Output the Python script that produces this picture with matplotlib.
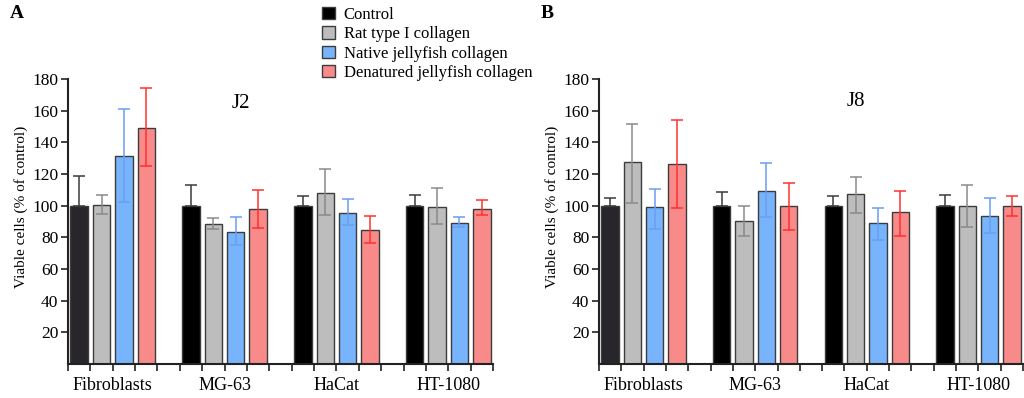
import matplotlib
matplotlib.use("Agg")
import matplotlib.pyplot as plt
from matplotlib.patches import Patch
import matplotlib.transforms as mtransforms

plt.rcParams['font.family'] = ['Liberation Serif', 'DejaVu Serif']

categories = ["Fibroblasts", "MG-63", "HaCat", "HT-1080"]
series = ["Control", "Rat type I collagen", "Native jellyfish collagen", "Denatured jellyfish collagen"]

# J2 panel: values, lower error end, upper error end
j2_control = [100, 100, 100, 100]
j2_control_hi = [118.5, 113, 106, 107]
j2_rat = [100.5, 88.5, 108, 99.2]
j2_rat_lo = [94.5, 85.5, 94, 88.2]
j2_rat_hi = [107, 92.5, 123, 111]
j2_native = [131.5, 83.5, 95.6, 89.3]
j2_native_lo = [102.5, 75, 88, 86.7]
j2_native_hi = [161, 93, 104, 93]
j2_denat = [149, 98, 84.6, 98.1]
j2_denat_lo = [125, 86, 76.6, 94.3]
j2_denat_hi = [174, 110, 93.3, 103.6]

# J8 panel
j8_control = [100, 100, 100, 100]
j8_control_hi = [104.6, 108.6, 106, 107]
j8_rat = [127.8, 90.5, 107.6, 100]
j8_rat_lo = [101.7, 80.6, 95.2, 86.5]
j8_rat_hi = [151.4, 99.6, 117.9, 113]
j8_native = [99, 109.5, 89, 93.3]
j8_native_lo = [85.5, 93, 78.5, 82.7]
j8_native_hi = [110.7, 127, 98.7, 104.6]
j8_denat = [126.5, 100, 96.2, 99.6]
j8_denat_lo = [98.3, 84.4, 81, 93.7]
j8_denat_hi = [154.3, 114.5, 109.5, 106.3]

yticks = [20, 40, 60, 80, 100, 120, 140, 160, 180]

fill_colors = ["#000000", "#bdbdbd", "#78b4fb", "#f88a8a"]
err_colors = ["#3a3a3a", "#8a8a8a", "#6a9ef2", "#ff3030"]

fig = plt.figure(figsize=(10.24, 3.98), dpi=100)

def draw_panel(ax, panel):
    vals, lo, hi = panel
    for s in range(4):
        xs = [g * 5 + s + 0.5 for g in range(len(categories))]
        cols = [fill_colors[s]] * len(categories)
        if s == 0:
            cols[0] = "#28262b"
        ax.bar(xs, vals[s], width=0.78, color=cols, edgecolor="#3c3c3c",
               linewidth=1.0, zorder=2)
        lower = [v - l for v, l in zip(vals[s], lo[s])]
        upper = [h - v for v, h in zip(vals[s], hi[s])]
        ax.errorbar(xs, vals[s], yerr=[lower, upper], fmt="none",
                    ecolor=err_colors[s], elinewidth=1.1, capsize=4.5,
                    capthick=1.1, zorder=3)
    ax.set_xlim(0, 19)
    ax.set_ylim(0, 180)
    ax.set_yticks(yticks)
    ax.set_xticks(range(20))
    ax.set_xticklabels([])
    ax.tick_params(axis="x", direction="out", length=5, width=1.2, color="#222222")
    ax.tick_params(axis="y", direction="out", length=5, width=1.2, color="#222222",
                   labelsize=12.5, pad=2)
    for sp in ["top", "right"]:
        ax.spines[sp].set_visible(False)
    for sp in ["left", "bottom"]:
        ax.spines[sp].set_linewidth(1.5)
        ax.spines[sp].set_color("#222222")
    trans = mtransforms.blended_transform_factory(ax.transData, ax.transAxes)
    for g, c in enumerate(categories):
        ax.text(g * 5 + 2, -0.075, c, transform=trans, ha="center", va="center",
                fontsize=13)
    ax.set_ylabel("Viable cells (% of control)", fontsize=11)
    ax.yaxis.set_label_coords(-40 / 425, 0.55)

axA = fig.add_axes([68 / 1024, 34 / 398, 425 / 1024, 285 / 398])
axB = fig.add_axes([599 / 1024, 34 / 398, 424 / 1024, 285 / 398])

draw_panel(axA, ([j2_control, j2_rat, j2_native, j2_denat],
                 [j2_control, j2_rat_lo, j2_native_lo, j2_denat_lo],
                 [j2_control_hi, j2_rat_hi, j2_native_hi, j2_denat_hi]))
draw_panel(axB, ([j8_control, j8_rat, j8_native, j8_denat],
                 [j8_control, j8_rat_lo, j8_native_lo, j8_denat_lo],
                 [j8_control_hi, j8_rat_hi, j8_native_hi, j8_denat_hi]))

fig.text(241 / 1024, 1 - 103 / 398, "J2", fontsize=15, ha="center", va="center")
fig.text(856 / 1024, 1 - 102 / 398, "J8", fontsize=15, ha="center", va="center")
fig.text(10 / 1024, 1 - 14 / 398, "A", fontsize=14, fontweight="bold", ha="left", va="center")
fig.text(541 / 1024, 1 - 14 / 398, "B", fontsize=14, fontweight="bold", ha="left", va="center")

handles = [Patch(facecolor=fill_colors[i], edgecolor="#3c3c3c", linewidth=1.0)
           for i in range(4)]
fig.legend(handles, series, loc="upper left", bbox_to_anchor=(312 / 1024, 1.0 + 3 / 398),
           frameon=False, fontsize=12, handlelength=0.75, handleheight=0.75,
           handletextpad=0.55, labelspacing=0.2, borderaxespad=0.2)

fig.savefig("out.png", dpi=100)
